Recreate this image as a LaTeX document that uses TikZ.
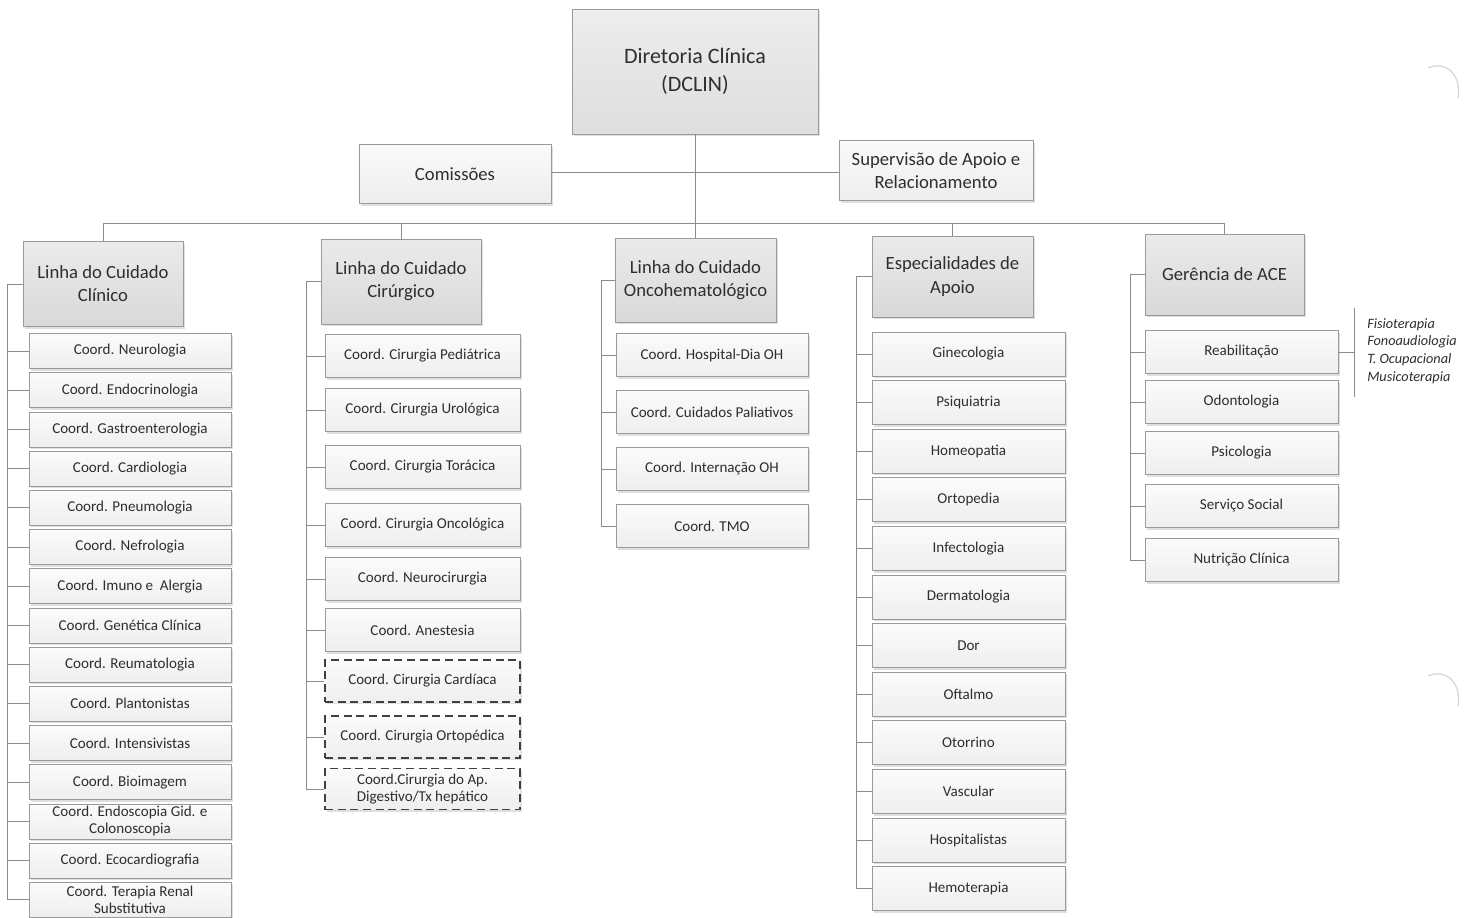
\documentclass[tikz,border=0pt]{standalone}
\usepackage{fontspec}
\setmainfont{Carlito}
\usetikzlibrary{shadows}
\definecolor{txt}{HTML}{2E2E2E}
\definecolor{edge}{HTML}{9A9A9A}
\definecolor{conncol}{HTML}{8C8C8C}
\tikzset{
  wh/.style 2 args={minimum width=#1*0.75pt, minimum height=#2*0.75pt},
  basebox/.style={rectangle, draw=edge, line width=0.6pt, inner sep=1pt, align=center,
    text=txt, drop shadow={opacity=0.25, shadow xshift=1.6pt, shadow yshift=-1.6pt}},
  topbox/.style={basebox, top color=gray!14, bottom color=gray!26, font=\fontsize{16.5}{21}\selectfont},
  headbox/.style={basebox, top color=gray!16, bottom color=gray!30, font=\fontsize{14}{17.3}\selectfont},
  midbox/.style={basebox, top color=gray!4, bottom color=gray!14, font=\fontsize{14}{17.3}\selectfont},
  childbox/.style={basebox, top color=gray!3, bottom color=gray!13, font=\fontsize{11.3}{12.8}\selectfont},
  dashbox/.style={childbox, draw=black!75, line width=1pt, dash pattern=on 6pt off 3.5pt},
  conn/.style={draw=conncol, line width=0.6pt},
}
\begin{document}
\begin{tikzpicture}[x={(0.75pt,0)}, y={(0,-0.75pt)}]
\useasboundingbox (0,0) rectangle (1472,918);
\fill[white] (0,0) rectangle (1472,918);

% top level
\node[topbox, wh={246}{125}] (dclin) at (695,71.5) {Diretoria Clínica\\(DCLIN)};
\node[midbox, wh={192}{59}] (com) at (455,174) {Comissões};
\node[midbox, wh={194}{60}] (sup) at (936,170.5) {Supervisão de Apoio e\\Relacionamento};

% heads
\node[headbox, wh={160}{85}] (h1) at (103,284) {Linha do Cuidado\\Clínico};
\node[headbox, wh={160}{85}] (h2) at (401,281.5) {Linha do Cuidado\\Cirúrgico};
\node[headbox, wh={161}{84}] (h3) at (695.5,280) {Linha do Cuidado\\Oncohematológico};
\node[headbox, wh={161}{81}] (h4) at (952.5,276.5) {Especialidades de\\Apoio};
\node[headbox, wh={159}{81}] (h5) at (1224.5,274.5) {Gerência de ACE};

% coordinates
\coordinate (lev) at (0,172);
\coordinate (bus) at (0,223);
\coordinate (sp1) at (7,0);
\coordinate (sp2) at (306,0);
\coordinate (sp3) at (601,0);
\coordinate (sp4) at (856,0);
\coordinate (sp5) at (1130,0);

% column 1
\foreach \t [count=\i from 0] in {Coord. Neurologia, Coord. Endocrinologia, Coord. Gastroenterologia,
  Coord. Cardiologia, Coord. Pneumologia, Coord. Nefrologia, Coord. Imuno e\ \ Alergia,
  Coord. Genética Clínica, Coord. Reumatologia, Coord. Plantonistas, Coord. Intensivistas,
  Coord. Bioimagem, {Coord. Endoscopia Gid. e\\Colonoscopia}, Coord. Ecocardiografia,
  {Coord. Terapia Renal\\Substitutiva}}{
  \node[childbox, wh={202}{35}] (a\i) at (130,351+39.2*\i) {\t};
  \draw[conn] (a\i.west -| sp1) -- (a\i.west);
}
\draw[conn] (h1.west) -- (h1.west -| sp1) -- (a14.west -| sp1);

% column 2
\foreach \t/\yy [count=\i from 0] in {Coord. Cirurgia Pediátrica/356, Coord. Cirurgia Urológica/410,
  Coord. Cirurgia Torácica/467, Coord. Cirurgia Oncológica/525, Coord. Neurocirurgia/579,
  Coord. Anestesia/630}{
  \node[childbox, wh={195}{43}] (b\i) at (422.5,\yy) {\t};
  \draw[conn] (b\i.west -| sp2) -- (b\i.west);
}
\node[dashbox, wh={195}{42}] (b6) at (422.5,681) {Coord. Cirurgia Cardíaca};
\node[dashbox, wh={195}{42}] (b7) at (422.5,737) {Coord. Cirurgia Ortopédica};
\node[dashbox, wh={195}{41}] (b8) at (422.5,789) {Coord.Cirurgia do Ap.\\Digestivo/Tx hepático};
\foreach \i in {6,7,8}{\draw[conn] (b\i.west -| sp2) -- (b\i.west);}
\draw[conn] (h2.west) -- (h2.west -| sp2) -- (b8.west -| sp2);

% column 3
\foreach \t/\yy [count=\i from 0] in {Coord. Hospital-Dia OH/355, Coord. Cuidados Paliativos/412,
  Coord. Internação OH/469, Coord. TMO/526}{
  \node[childbox, wh={192}{43}] (c\i) at (712,\yy) {\t};
  \draw[conn] (c\i.west -| sp3) -- (c\i.west);
}
\draw[conn] (h3.west) -- (h3.west -| sp3) -- (c3.west -| sp3);

% column 4
\foreach \t [count=\i from 0] in {Ginecologia, Psiquiatria, Homeopatia, Ortopedia, Infectologia,
  Dermatologia, Dor, Oftalmo, Otorrino, Vascular, Hospitalistas, Hemoterapia}{
  \node[childbox, wh={193}{44}] (d\i) at (968.5,354+48.6*\i) {\t};
  \draw[conn] (d\i.west -| sp4) -- (d\i.west);
}
\draw[conn] (h4.west) -- (h4.west -| sp4) -- (d11.west -| sp4);

% column 5
\foreach \t/\yy [count=\i from 0] in {Reabilitação/352, Odontologia/402, Psicologia/453,
  Serviço Social/506, Nutrição Clínica/560}{
  \node[childbox, wh={193}{43}] (g\i) at (1241.5,\yy) {\t};
  \draw[conn] (g\i.west -| sp5) -- (g\i.west);
}
\draw[conn] (h5.west) -- (h5.west -| sp5) -- (g4.west -| sp5);

% Reabilitação bracket
\coordinate (rbt) at (1354,308);
\coordinate (rbb) at (1354,397);
\draw[conn] (g0.east) -- (g0.east -| rbt);
\draw[conn] (rbt) -- (rbb);
\node[anchor=north west, align=left, inner sep=0pt, text=txt,
  font=\fontsize{10.7}{13.3}\selectfont\itshape] (rtxt) at (1367,318)
  {Fisioterapia\\Fonoaudiologia\\T. Ocupacional\\Musicoterapia};

% upper connectors
\draw[conn] (dclin.south) -- (dclin.south |- bus);
\draw[conn] (com.east |- lev) -- (sup.west |- lev);
\draw[conn] (h1.north |- bus) -- (h5.north |- bus);
\foreach \h in {h1,h2,h3,h4,h5}{\draw[conn] (\h.north |- bus) -- (\h.north);}

% punch-hole marks of the scan
\draw[gray!30, line width=1pt] (1428,68) .. controls (1446,60) and (1462,75) .. (1458,98);
\draw[gray!30, line width=1pt] (1428,676) .. controls (1446,668) and (1462,683) .. (1458,706);
\end{tikzpicture}
\end{document}
